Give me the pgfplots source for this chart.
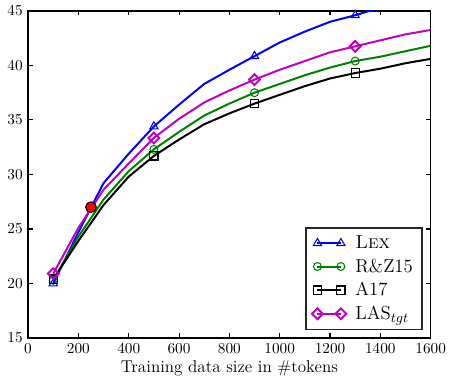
\documentclass[border=0pt]{standalone}
\usepackage{pgfplots}
\pgfplotsset{compat=1.18}
\definecolor{mgreen}{rgb}{0,0.5,0}
\definecolor{mmag}{rgb}{0.75,0,0.75}
\begin{document}
\begin{tikzpicture}
\begin{axis}[name=ax, scale only axis, width=264pt, height=214.5pt,
 xmin=0,xmax=1600, ymin=15,ymax=45,
 xtick={0,200,...,1600}, ytick={15,20,...,45},
 tick align=inside, major tick length=3pt,
 axis line style={line width=0.9pt},
 every tick/.style={black, line width=0.7pt},
 xlabel={Training data size in \#tokens},
 xlabel style={font=\fontsize{11.2}{13}\selectfont, yshift=2pt},
 legend style={at={(0.98,0.025)},anchor=south east, font=\fontsize{12.3}{14}\selectfont, draw=black!85, line width=0.8pt, row sep=1.2pt, inner xsep=4pt, inner ysep=3pt,
   /tikz/column 1/.style={column sep=4pt}},
 legend cell align=left,
 legend image code/.code={\draw[mark repeat=2,mark phase=1] plot coordinates {(0cm,0cm) (0.27cm,0cm) (0.54cm,0cm)};},
 every axis plot/.append style={line width=1.3pt, mark repeat=4, mark phase=1, mark options={fill=white, solid, line width=0.7pt}},
 scaled x ticks=false, /pgf/number format/1000 sep={},
]
\addplot[blue, mark=triangle, mark size=3.1pt] coordinates {
(100,20.0)(200,24.7)(300,29.2)(400,31.9)(500,34.4)(600,36.4)(700,38.3)(800,39.6)(900,40.85)(1000,42.1)(1100,43.1)(1200,44.0)(1300,44.6)(1400,45.3)(1500,46.0)(1600,46.6)};
\addlegendentry{\textsc{Lex}}
\addplot[mgreen, mark=o, mark size=2.6pt] coordinates {
(100,20.3)(200,24.3)(300,27.7)(400,30.3)(500,32.3)(600,33.9)(700,35.4)(800,36.5)(900,37.5)(1000,38.3)(1100,39.1)(1200,39.8)(1300,40.4)(1400,40.8)(1500,41.3)(1600,41.8)};
\addlegendentry{R\&Z15}
\addplot[black, mark=square, mark size=2.7pt] coordinates {
(100,20.4)(200,23.9)(300,27.2)(400,29.8)(500,31.7)(600,33.2)(700,34.6)(800,35.6)(900,36.5)(1000,37.3)(1100,38.1)(1200,38.8)(1300,39.3)(1400,39.7)(1500,40.2)(1600,40.6)};
\addlegendentry{A17}
\addplot[mmag, mark=square, mark size=2.5pt, mark options={rotate=45}] coordinates {
(100,20.9)(200,25.1)(300,28.6)(400,31.0)(500,33.35)(600,35.1)(700,36.6)(800,37.7)(900,38.7)(1000,39.6)(1100,40.4)(1200,41.2)(1300,41.75)(1400,42.3)(1500,42.85)(1600,43.25)};
\addlegendentry{LAS$_{tgt}$}
\addplot[only marks, mark=*, mark size=3.5pt, mark options={fill=red, draw=black, line width=0.7pt}, forget plot] coordinates {(250,27.0)};
\end{axis}
\path ([xshift=-18.4pt,yshift=-28.4pt]ax.south west) rectangle ([xshift=10.4pt,yshift=7.15pt]ax.north east);
\end{tikzpicture}
\end{document}
